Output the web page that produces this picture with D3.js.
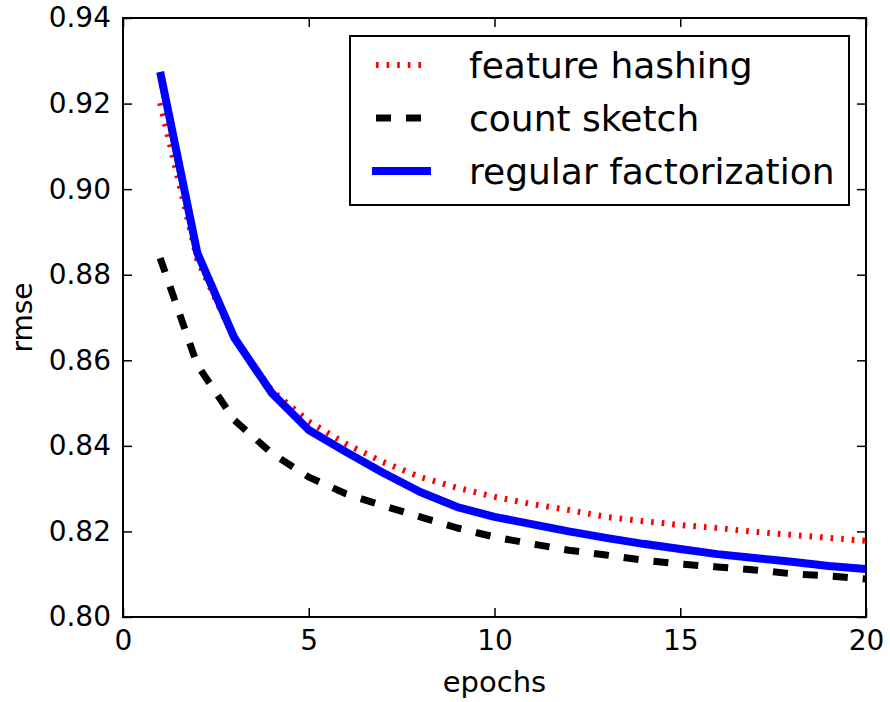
<!DOCTYPE html>
<html>
<head>
<meta charset="utf-8">
<script src="https://cdn.jsdelivr.net/npm/d3@7/dist/d3.min.js"></script>
<style>
  html, body { margin: 0; padding: 0; background: #fff; }
  svg { display: block; font-family: "DejaVu Sans", sans-serif; }
</style>
</head>
<body>
<svg id="chart" width="890" height="702"></svg>
<script>
const epochs = [1, 2, 3, 4, 5, 6, 7, 8, 9, 10, 11, 12, 13, 14, 15, 16, 17, 18, 19, 20];
const featureHashing = [0.9201, 0.8835, 0.8648, 0.8530, 0.8457, 0.8405, 0.8362, 0.8327, 0.8302, 0.8281,
                        0.8264, 0.8250, 0.8234, 0.8224, 0.8215, 0.8208, 0.8199, 0.8192, 0.8185, 0.8178];
const countSketch = [0.8839, 0.8589, 0.8460, 0.8383, 0.8327, 0.8288, 0.8260, 0.8234, 0.8208, 0.8187,
                     0.8171, 0.8156, 0.8145, 0.8133, 0.8124, 0.8117, 0.8110, 0.8101, 0.8096, 0.8089];
const regularFactorization = [0.9274, 0.8851, 0.8652, 0.8524, 0.8437, 0.8386, 0.8337, 0.8292, 0.8257, 0.8234,
                              0.8217, 0.8200, 0.8185, 0.8171, 0.8159, 0.8147, 0.8138, 0.8129, 0.8119, 0.8112];
const seriesNames = ["feature hashing", "count sketch", "regular factorization"];
const xTicks = [0, 5, 10, 15, 20];
const yTicks = [0.80, 0.82, 0.84, 0.86, 0.88, 0.90, 0.92, 0.94];
const xLabel = "epochs";
const yLabel = "rmse";

(function () {
const styles = [
  { color: "#ff0000", width: 6, dash: "2.6,8" },
  { color: "#000000", width: 7, dash: "15,15" },
  { color: "#0000ff", width: 8, dash: null }
];
const seriesValues = [featureHashing, countSketch, regularFactorization];

const svg = d3.select("#chart");
const pL = 123, pR = 866, pT = 18, pB = 617;

const x = d3.scaleLinear().domain([0, 20]).range([pL, pR]);
const y = d3.scaleLinear().domain([0.80, 0.94]).range([pB, pT]);

svg.append("defs").append("clipPath").attr("id", "clip")
  .append("rect").attr("x", pL).attr("y", pT).attr("width", pR - pL).attr("height", pB - pT);

const line = d3.line().x((d, i) => x(epochs[i])).y(d => y(d));
const plot = svg.append("g").attr("clip-path", "url(#clip)");
seriesValues.forEach((vals, k) => {
  plot.append("path")
    .datum(vals)
    .attr("d", line)
    .attr("fill", "none")
    .attr("stroke", styles[k].color)
    .attr("stroke-width", styles[k].width)
    .attr("stroke-dasharray", styles[k].dash)
    .attr("stroke-linecap", "butt")
    .attr("stroke-linejoin", "round");
});

const tickLen = 9;
const fmtY = d3.format(".2f");
const axB = d3.axisBottom(x).tickValues(xTicks).tickSizeInner(-tickLen).tickSizeOuter(0).tickPadding(13).tickFormat(d3.format("d"));
const axT = d3.axisTop(x).tickValues(xTicks).tickSizeInner(-tickLen).tickSizeOuter(0).tickFormat("");
const axL = d3.axisLeft(y).tickValues(yTicks).tickSizeInner(-tickLen).tickSizeOuter(0).tickPadding(12).tickFormat(fmtY);
const axR = d3.axisRight(y).tickValues(yTicks).tickSizeInner(-tickLen).tickSizeOuter(0).tickFormat("");

function styleAxis(g) {
  g.select(".domain").remove();
  g.selectAll(".tick line").attr("stroke", "#000").attr("stroke-width", 1.5);
  g.selectAll(".tick text").attr("fill", "#000").attr("font-size", 28)
    .attr("font-family", "DejaVu Sans, sans-serif");
}
svg.append("g").attr("transform", `translate(0,${pB})`).call(axB).call(styleAxis);
svg.append("g").attr("transform", `translate(0,${pT})`).call(axT).call(styleAxis);
svg.append("g").attr("transform", `translate(${pL},0)`).call(axL).call(styleAxis);
svg.append("g").attr("transform", `translate(${pR},0)`).call(axR).call(styleAxis);

svg.append("rect").attr("x", pL).attr("y", pT).attr("width", pR - pL).attr("height", pB - pT)
  .attr("fill", "none").attr("stroke", "#000").attr("stroke-width", 2);

svg.append("text").attr("x", (pL + pR) / 2).attr("y", 692)
  .attr("text-anchor", "middle").attr("font-size", 29).attr("fill", "#000").text(xLabel);
svg.append("text").attr("transform", `translate(32,${(pT + pB) / 2}) rotate(-90)`)
  .attr("text-anchor", "middle").attr("font-size", 28).attr("fill", "#000").text(yLabel);

const lg = svg.append("g");
lg.append("rect").attr("x", 350).attr("y", 36).attr("width", 499).attr("height", 169)
  .attr("fill", "#fff").attr("stroke", "#000").attr("stroke-width", 2);
const legY = [65, 118, 171];
const legX0 = [376, 376, 372], legX1 = [428, 422, 431];
seriesNames.forEach((name, k) => {
  lg.append("line").attr("x1", legX0[k]).attr("x2", legX1[k]).attr("y1", legY[k]).attr("y2", legY[k])
    .attr("stroke", styles[k].color).attr("stroke-width", styles[k].width)
    .attr("stroke-dasharray", styles[k].dash);
  lg.append("text").attr("x", 469).attr("y", legY[k] + 13).attr("font-size", 36).attr("fill", "#000").text(name);
});
})();
</script>
</body>
</html>
